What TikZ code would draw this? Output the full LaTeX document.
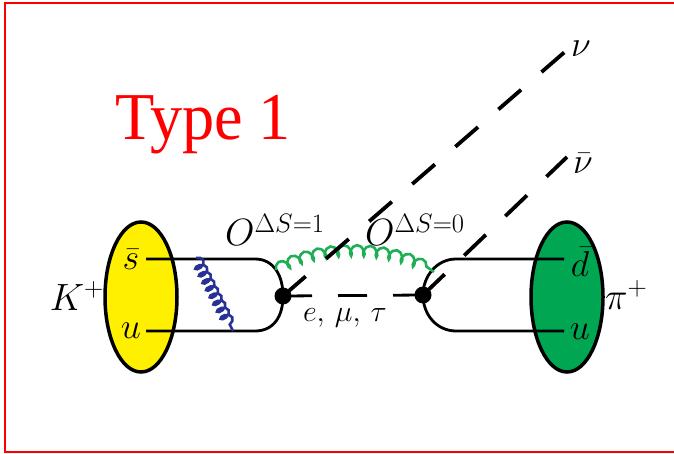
\RequirePackage{fix-cm}
\documentclass[tikz,border=0pt]{standalone}
\usepackage{fontspec}
\newfontfamily\titlefont{Liberation Serif}
\usetikzlibrary{shapes.geometric,decorations.pathmorphing}
\definecolor{kyellow}{RGB}{255,240,0}
\definecolor{pigreen}{RGB}{0,166,81}
\definecolor{glgreen}{RGB}{30,175,85}
\definecolor{glblue}{RGB}{40,50,150}
\begin{document}
\begin{tikzpicture}[x=1pt,y=-1pt,
  meson/.style={ellipse,draw=black,line width=3.5pt,minimum width=72pt,minimum height=150pt,inner sep=0pt},
  quark/.style={line width=2.8pt},
  vtx/.style={circle,fill=black,minimum size=17pt,inner sep=0pt},
  lepton/.style={line width=2.8pt,dash pattern=on 29pt off 26pt},
  neutrino/.style={line width=3.8pt,dash pattern=on 30pt off 27pt},
  gluon/.style={line width=2.6pt,decorate,decoration={coil,aspect=0.6,amplitude=5.5pt}},
  lbl/.style={inner sep=0pt,font=\fontsize{36}{40}\selectfont},
  oplbl/.style={inner sep=0pt,font=\fontsize{38}{42}\selectfont},
]
\useasboundingbox (0,0) rectangle (674,454);
% frame
\draw[red,line width=2.2pt] (680,3) -- (5,3) -- (5,452) -- (680,452);
% title
\node[text=red,inner sep=0pt,anchor=base west,xscale=0.96,font=\titlefont\fontsize{67}{70}\selectfont] (title) at (115,140) {Type 1};
% mesons
\node[meson,fill=kyellow] (K) at (141,297) {};
\node[meson,fill=pigreen] (pi) at (567,297) {};
% vertices
\coordinate (vl) at (283,296);
\coordinate (vr) at (423,295);
% quark lines
\draw[quark] (146,259) -- (255,259) .. controls (274,259) and (283,276) .. (vl)
             .. controls (283,316) and (274,331) .. (255,331) -- (146,331);
\draw[quark] (564,259) -- (456,259) .. controls (437,259) and (423,276) .. (vr)
             .. controls (423,315) and (437,331) .. (456,331) -- (564,331);
% gluons
\coordinate (gb1) at (196,258);
\coordinate (gb2) at (233,331);
\draw[gluon,glblue,decoration={segment length=8pt}] (gb1) -- (gb2);
\coordinate (gg1) at (276,270);
\coordinate (gg2) at (434,272);
\draw[gluon,glgreen,decoration={segment length=13pt}] (gg1) .. controls (318,244) and (392,244) .. (gg2);
% leptons
\coordinate (nu) at (567,50);
\coordinate (nub) at (567,157);
\draw[lepton] (vl) -- (vr);
\draw[neutrino] (vl) -- (nu);
\draw[neutrino] (vr) -- (nub);
\node[vtx] (vL) at (vl) {};
\node[vtx] (vR) at (vr) {};
% labels
\node[lbl] (sbar) at (131,259) {$\bar s$};
\node[lbl] (ul) at (131,331) {$u$};
\node[lbl] (dbar) at (580,262) {$\bar d$};
\node[lbl] (ur) at (580,332) {$u$};
\node[oplbl,anchor=east] (Klbl) at (104,296) {$K^+$};
\node[oplbl,anchor=west] (pilbl) at (605,295) {$\pi^+$};
\node[lbl,anchor=west] (nulbl) at (571,49) {$\nu$};
\node[lbl,anchor=west] (nublbl) at (573,163) {$\bar\nu$};
\node[inner sep=0pt,font=\fontsize{30}{34}\selectfont] (lep) at (345,318) {$e,\,\mu,\,\tau$};
\node[oplbl,anchor=base west] (O1) at (225,246) {$O^{\Delta S=1}$};
\node[oplbl,anchor=base west] (O0) at (365,246) {$O^{\Delta S=0}$};
\end{tikzpicture}
\end{document}
